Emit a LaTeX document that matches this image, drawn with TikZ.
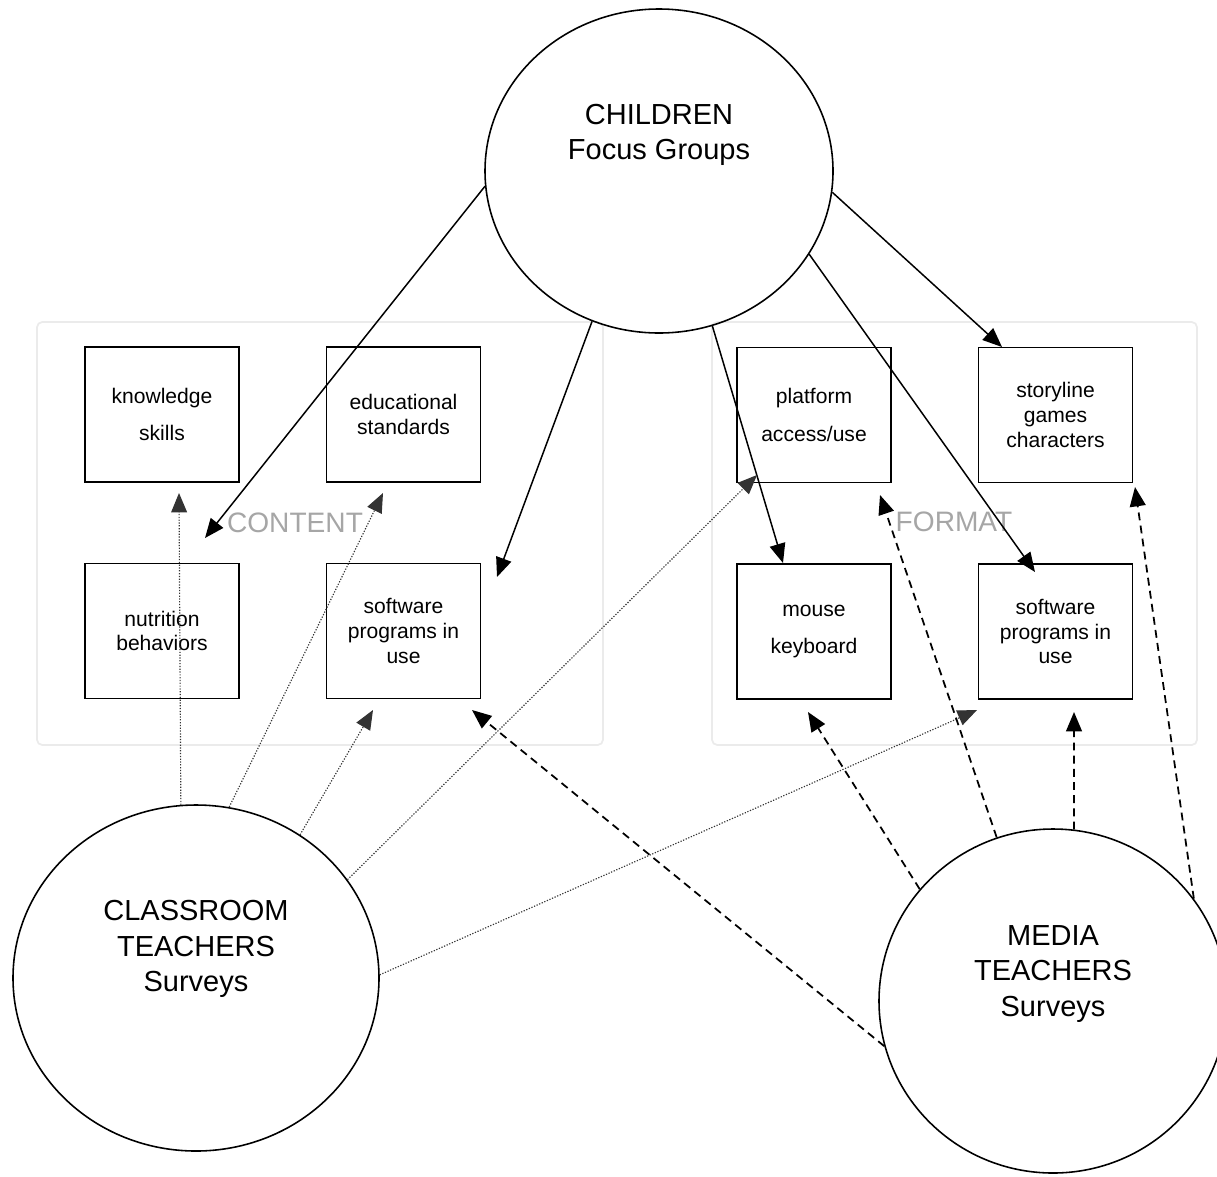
\documentclass[tikz,border=0pt]{standalone}
\usepackage{fontspec}
\setmainfont{Liberation Sans}
\usetikzlibrary{arrows.meta, positioning, shapes.geometric}
\def\boxsep{4.83cm}
\def\rowsep{4.33cm}

\begin{document}
\begin{tikzpicture}[>={Triangle[length=11pt,width=9pt]}, node distance=\boxsep]
    \tikzstyle{source}=[ellipse, draw=black, line width=0.9pt, inner sep=0pt]
    \tikzstyle{source text}=[align=center, font=\fontsize{16.5}{20}\selectfont]
    \tikzstyle{topic}=[rectangle, draw=black, line width=1.1pt, minimum width=3.08cm, minimum height=2.7cm, inner sep=0pt, align=center, font=\fontsize{12}{14}\selectfont]
    \tikzstyle{area}=[draw=black!8, line width=1pt, rounded corners=3pt]
    \tikzstyle{annot}=[text=black!35, font=\fontsize{16}{19}\selectfont]
    \tikzstyle{focus link}=[->, line width=0.85pt]
    \tikzstyle{class link}=[->, draw=black!80, line width=0.65pt, dash pattern=on 0.7pt off 0.9pt]
    \tikzstyle{media link}=[->, line width=1pt, dash pattern=on 4.5pt off 3pt]

    \useasboundingbox (0,0) rectangle (24.34,-23.52);

    % Draw the two areas
    \draw[area] (0.74,-6.44) rectangle (12.06,-14.9);
    \draw[area] (14.24,-6.44) rectangle (23.94,-14.9);
    \node[annot] (content) at (5.9,-10.46) {CONTENT};
    \node[annot] (format) at (19.08,-10.44) {FORMAT};

    % Draw the data sources
    \node[source, minimum width=6.96cm, minimum height=6.48cm] (ch) at (13.18,-3.42) {};
    \node[source text] (ch-text) at (13.18,-2.69) {CHILDREN\\Focus Groups};
    \node[source, minimum width=7.32cm, minimum height=6.92cm] (ct) at (3.92,-19.56) {};
    \node[source text] (ct-text) at (3.92,-18.98) {CLASSROOM\\TEACHERS\\Surveys};
    \node[source, minimum width=6.96cm, minimum height=6.88cm] (mt) at (21.06,-20.02) {};
    \node[source text] (mt-text) at (21.06,-19.48) {MEDIA\\TEACHERS\\Surveys};

    % Draw the content topics
    \node[topic] (know) at (3.24,-8.29) {knowledge\\[7.5pt]skills};
    \node[topic, right of=know] (edu) {educational\\standards};
    \node[topic, below of=know, node distance=\rowsep] (nutr) {nutrition\\behaviors};
    \node[topic, right of=nutr] (softC) {software\\programs in\\use};

    % Draw the format topics
    \node[topic] (plat) at (16.28,-8.30) {platform\\[7.5pt]access/use};
    \node[topic, right of=plat] (story) {storyline\\games\\characters};
    \node[topic, below of=plat, node distance=\rowsep] (mouse) {mouse\\[7.5pt]keyboard};
    \node[topic, right of=mouse] (softF) {software\\programs in\\use};

    % Arrow tips
    \coordinate (C-1) at (4.10,-10.76);
    \coordinate (C-2) at (9.94,-11.54);
    \coordinate (C-3) at (15.66,-11.26);
    \coordinate (C-4) at (20.70,-11.44);
    \coordinate (C-5) at (20.04,-6.94);
    \coordinate (T-1) at (3.58,-9.86);
    \coordinate (T-2) at (7.66,-9.86);
    \coordinate (T-3) at (7.46,-14.20);
    \coordinate (T-4) at (15.14,-9.50);
    \coordinate (T-5) at (19.54,-14.20);
    \coordinate (M-1) at (9.44,-14.20);
    \coordinate (M-2) at (16.16,-14.24);
    \coordinate (M-3) at (17.60,-9.90);
    \coordinate (M-4) at (21.48,-14.24);
    \coordinate (M-5) at (22.70,-9.74);

    % Connect the children to the topics
    \foreach \ang/\tip in {185.6/C-1, 246.5/C-2, 289.6/C-3, 331.5/C-4, 353.8/C-5}
        \draw[focus link] (ch.\ang) -- (\tip);

    % Connect the classroom teachers to the topics
    \foreach \ang/\tip in {95.5/T-1, 79.5/T-2, 54.9/T-3, 33.3/T-4, 1/T-5}
        \draw[class link] (ct.\ang) -- (\tip);

    % Connect the media teachers to the topics
    \foreach \ang/\tip in {195.1/M-1, 140.7/M-2, 109.7/M-3, 83.4/M-4, 36.8/M-5}
        \draw[media link] (mt.\ang) -- (\tip);
\end{tikzpicture}
\end{document}
